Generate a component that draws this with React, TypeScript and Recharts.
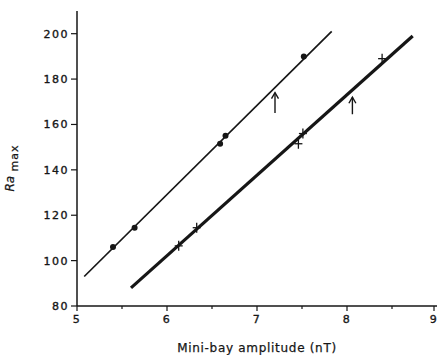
import { ComposedChart, Scatter, XAxis, YAxis } from 'recharts'

// values
const dotX = [5.4, 5.64, 6.59, 6.65, 7.52]
const dotY = [106, 114.5, 151.5, 155, 190]
const crossX = [6.13, 6.33, 7.46, 7.51, 8.39]
const crossY = [106.5, 114.5, 151.5, 156, 189]
const fitDotsX = [5.08, 7.83]
const fitDotsY = [93, 201]
const fitCrossX = [5.6, 8.73]
const fitCrossY = [88, 199]
const arrowX = [7.2, 8.06]
const arrowTipY = [174, 172]
const arrowTailY = [165, 164.5]

const xTicks = [5, 5.5, 6, 6.5, 7, 7.5, 8, 8.5, 9]
const yTicks = [80, 90, 100, 110, 120, 130, 140, 150, 160, 170, 180, 190, 200]

const INK = '#161616'
const FONT = '"DejaVu Sans", "Liberation Sans", sans-serif'

const zip = (xs: number[], ys: number[]) => xs.map((x, i) => ({ x, y: ys[i] }))

const dots = zip(dotX, dotY)
const crosses = zip(crossX, crossY)
const fitDots = zip(fitDotsX, fitDotsY)
const fitCross = zip(fitCrossX, fitCrossY)
const arrows = arrowX.map((x, i) => [
  { x, y: arrowTailY[i], tip: false },
  { x, y: arrowTipY[i], tip: true },
])

const XTick = ({ x, y, payload }: any) => {
  const major = Number.isInteger(payload.value)
  return (
    <g>
      <line x1={x} y1={y} x2={x} y2={y + (major ? 5 : 3)} stroke={INK} strokeWidth={1.2} />
      {major && (
        <text x={x} y={y + 17} textAnchor="middle" fontSize={11} letterSpacing={1.5} fill={INK} stroke={INK} strokeWidth={0.35} fontFamily={FONT}>
          {payload.value}
        </text>
      )}
    </g>
  )
}

const YTick = ({ x, y, payload }: any) => {
  const major = payload.value % 20 === 0
  return (
    <g>
      <line x1={x - (major ? 6 : 3)} y1={y} x2={x} y2={y} stroke={INK} strokeWidth={1.2} />
      {major && (
        <text x={x - 8} y={y + 4} textAnchor="end" fontSize={11} letterSpacing={1.5} fill={INK} stroke={INK} strokeWidth={0.35} fontFamily={FONT}>
          {payload.value}
        </text>
      )}
    </g>
  )
}

const YLabel = () => (
  <text x={14} y={168} transform="rotate(-90, 14, 168)" textAnchor="middle" fontSize={12} fill={INK} stroke={INK} strokeWidth={0.25} fontFamily={FONT}>
    <tspan fontStyle="italic">Ra</tspan>
    <tspan dy={4} fontSize={11} letterSpacing={1}> max</tspan>
  </text>
)

const Dot = ({ cx, cy }: any) => <circle cx={cx} cy={cy} r={3} fill={INK} />

const Cross = ({ cx, cy }: any) => (
  <g stroke={INK} strokeWidth={1.3}>
    <line x1={cx - 4} y1={cy} x2={cx + 4} y2={cy} />
    <line x1={cx} y1={cy - 5} x2={cx} y2={cy + 5} />
  </g>
)

const ArrowHead = ({ cx, cy, payload }: any) =>
  payload.tip ? (
    <path d={`M${cx - 3.5},${cy + 6} L${cx},${cy} L${cx + 3.5},${cy + 6}`} fill="none" stroke={INK} strokeWidth={1.4} />
  ) : (
    <g />
  )

const Empty = () => <g />

export default function App() {
  return (
    <div style={{ position: 'absolute', left: 0, top: 0, background: '#fff' }}>
      <ComposedChart width={438} height={355} margin={{ top: 11, right: 1, bottom: 0, left: 0 }}>
        <XAxis
          type="number"
          dataKey="x"
          domain={[5, 9]}
          ticks={xTicks}
          tick={<XTick />}
          tickSize={0}
          tickMargin={0}
          tickLine={false}
          height={49}
          axisLine={{ stroke: INK, strokeWidth: 1.5 }}
          allowDataOverflow
          label={{ value: 'Mini-bay amplitude (nT)', position: 'insideBottom', offset: 3, fontSize: 12, fill: INK, stroke: INK, strokeWidth: 0.25, fontFamily: FONT, letterSpacing: 0.7 }}
        />
        <XAxis xAxisId="top" orientation="top" type="number" domain={[5, 9]} tick={false} tickLine={false} height={0} axisLine={{ stroke: INK, strokeWidth: 1.5 }} />
        <YAxis
          type="number"
          dataKey="y"
          domain={[80, 210]}
          ticks={yTicks}
          tick={<YTick />}
          tickSize={0}
          tickMargin={0}
          tickLine={false}
          width={77}
          axisLine={{ stroke: INK, strokeWidth: 1.5 }}
          allowDataOverflow
          label={<YLabel />}
        />
        <YAxis yAxisId="right" orientation="right" type="number" domain={[80, 210]} tick={false} tickLine={false} width={0} axisLine={{ stroke: '#b5b5b5', strokeWidth: 1 }} />

        <Scatter data={fitDots} line={{ stroke: INK, strokeWidth: 1.7 }} shape={<Empty />} isAnimationActive={false} />
        <Scatter data={fitCross} line={{ stroke: INK, strokeWidth: 3.2 }} shape={<Empty />} isAnimationActive={false} />
        <Scatter data={dots} shape={<Dot />} isAnimationActive={false} />
        <Scatter data={crosses} shape={<Cross />} isAnimationActive={false} />
        {arrows.map((a, i) => (
          <Scatter key={i} data={a} line={{ stroke: INK, strokeWidth: 1.4 }} shape={<ArrowHead />} isAnimationActive={false} />
        ))}
      </ComposedChart>
    </div>
  )
}
